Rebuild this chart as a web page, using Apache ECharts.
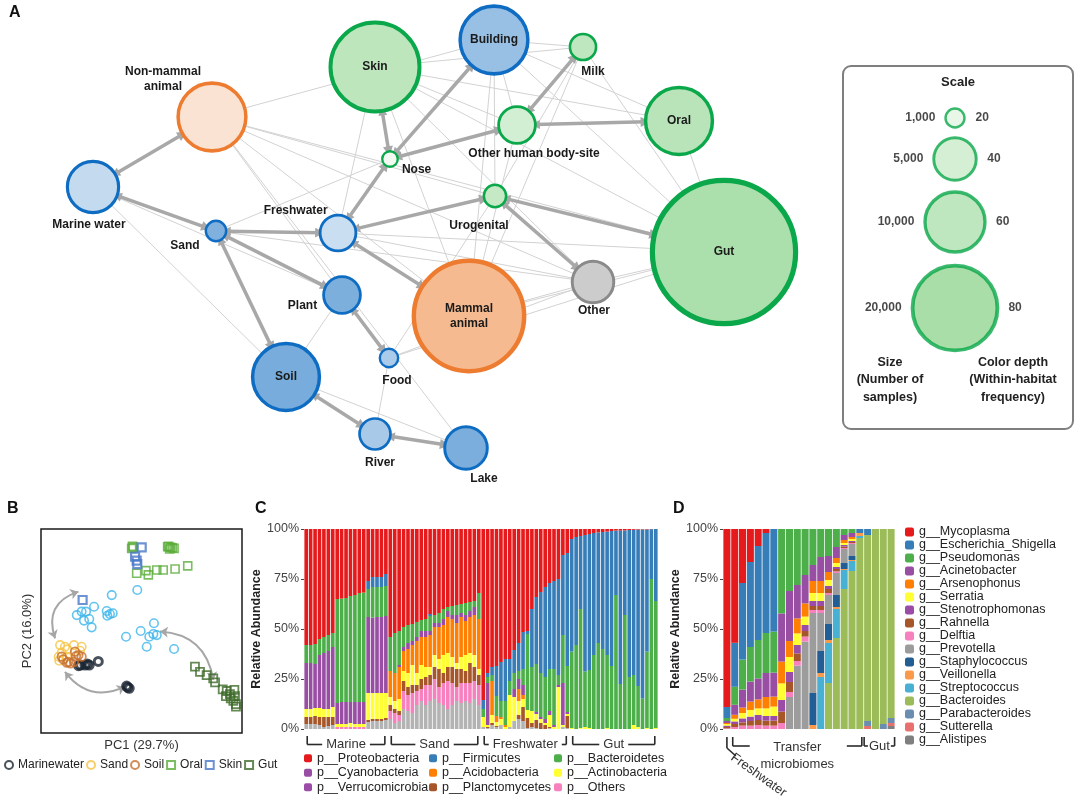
<!DOCTYPE html>
<html><head><meta charset="utf-8">
<script src="https://cdn.jsdelivr.net/npm/echarts@6/dist/echarts.min.js"></script>
<style>html,body{margin:0;padding:0;background:#fff}#c{width:1080px;height:800px}</style>
</head><body><div id="c"></div>
<script>
// ================= DATA =================
// ---- Panel A: habitat network ----
const habitatNames = ['Skin','Building','Milk','Non-mammal animal','Marine water','Nose','Other human body-site','Oral','Urogenital','Freshwater','Sand','Gut','Mammal animal','Other','Plant','Food','Soil','River','Lake'];
const habitatX = [375,494,583,212,93,390,517,679,495,338,216,724,469,593,342,389,286,375,466];
const habitatY = [67,40,47,117,187,159,125,121,196,233,231,252,316,282,295,358,377,434,448];
const habitatSamples = [22000,12750,1900,12750,7300,670,3760,12400,1380,3560,1150,57000,33800,4800,3760,940,12400,2660,5040];
const habitatFreq = [49,57,48,24,33,10,33,52,43,30,70,62,60,0,72,47,75,48,73];
const habitatType = ['human','env','human','animal','env','human','human','human','human','env','env','human','animal','other','env','env','env','env','env'];
const transferLinks = [
 ['Marine water','Non-mammal animal'],['Marine water','Sand'],['Sand','Freshwater'],['Sand','Plant'],['Sand','Soil'],
 ['Freshwater','Nose'],['Freshwater','Urogenital'],['Freshwater','Mammal animal'],['Skin','Nose'],['Nose','Building'],
 ['Nose','Other human body-site'],['Other human body-site','Milk'],['Other human body-site','Oral'],['Urogenital','Gut'],
 ['Urogenital','Other'],['Plant','Food'],['Soil','River'],['River','Lake']
];
const sharedLinks = [
 ['Non-mammal animal','Building'],['Non-mammal animal','Urogenital'],['Non-mammal animal','Other'],['Non-mammal animal','Gut'],
 ['Non-mammal animal','Mammal animal'],['Non-mammal animal','Food'],['Non-mammal animal','Lake'],['Marine water','Soil'],
 ['Marine water','Plant'],['Sand','Nose'],['Sand','Other'],['Skin','Other human body-site'],['Skin','Oral'],['Skin','Gut'],
 ['Skin','Mammal animal'],['Skin','Freshwater'],['Skin','Other'],['Skin','Milk'],['Building','Milk'],['Building','Oral'],
 ['Building','Urogenital'],['Building','Mammal animal'],['Building','Gut'],['Building','Other human body-site'],
 ['Milk','Gut'],['Milk','Mammal animal'],['Milk','Urogenital'],['Oral','Gut'],['Other human body-site','Mammal animal'],
 ['Urogenital','Food'],['Freshwater','Gut'],['Freshwater','Other'],['Plant','Soil'],['Food','River'],['Food','Other'],
 ['Food','Gut'],['Soil','Lake'],['Mammal animal','Gut'],['Mammal animal','Other'],['Other','Gut']
];
const scaleSamples = [1000,5000,10000,20000];
const scaleFreq = [20,40,60,80];
const scaleX = [955,955,955,955];
const scaleY = [118,159,222,308];

// ---- Panel B: PCoA ----
const bMarine = [[18.7,33.0],[19.7,33.3],[21.9,33.3],[23.0,33.8],[24.0,33.3],[28.5,35.1],[42.6,23.0],[43.1,22.4],[43.9,21.9]];
const bSand = [[9.5,43.1],[13.1,41.0],[16.4,43.1],[20.2,42.3],[8.8,37.4],[10.3,39.4],[12.8,37.4],[9.1,35.4],[19.4,40.3],[11.9,42.3]];
const bSoil = [[16.9,39.9],[18.6,38.2],[20.2,37.4],[11.1,36.1],[12.8,34.5],[14.7,34.1],[16.4,34.9],[10.3,37.4],[17.4,37.7],[13.6,34.9]];
const bOral = [[45.1,90.5],[45.9,91.0],[45.5,91.5],[63.0,91.3],[64.5,91.0],[66.2,90.5],[63.5,91.5],[65.3,90.8],[64.0,90.2],[47.6,78.3],[52.2,79.6],[53.4,77.5],[57.6,79.9],[60.8,79.9],[66.7,80.4],[73.0,81.9]];
const bSkin = [[50.1,91.0],[46.8,86.4],[47.6,84.5],[47.9,82.8],[20.7,65.2]];
const bGut = [[76.6,32.5],[79.1,30.0],[82.4,28.4],[85.7,26.8],[86.6,24.8],[90.4,21.4],[92.4,20.6],[94.0,19.1],[96.2,21.1],[96.5,18.1],[95.7,15.8],[97.0,14.2],[97.0,12.9],[94.4,17.0],[92.0,18.1]];
const bOtherSamples = [[35.2,67.6],[26.4,61.9],[47.9,70.1],[17.8,57.8],[20.2,59.5],[22.4,59.5],[24.0,55.9],[21.4,55.1],[25.2,51.8],[32.7,59.8],[34.3,58.3],[35.7,58.7],[33.0,57.5],[42.3,47.2],[49.6,50.0],[53.9,47.2],[55.9,48.5],[57.6,48.0],[56.2,53.8],[52.6,42.3],[66.2,41.2]];
const bTransitions = [[[18.6,69.3],[7.0,46.4]],[[11.9,30.0],[41.8,22.7]],[[59.2,49.7],[85.7,26.0]]];

// ---- Panel C: phylum composition (Marine 19, Sand 21, Freshwater 20, Gut 20 samples) ----
const cGroups = ['Marine','Sand','Freshwater','Gut'];
const cGroupStart = [0,19,40,60];
const cGroupEnd = [18,39,59,79];
const cUnclassified = [2.5,2.5,2.5,2,1,1.5,2,0,0,0,0,0,0,0,3.5,4,4,4,4.5, 5,3,4,10,9,8,12,14,12,14,15,13,12,10,12,14,13,14,13,15,12, 1,0.5,2,1,2,0,1,4,5,4,0.5,1,0.5,0,0,0.5,0,0,1,0.5, 0,0,0,0,0,0,0,0,0,0,0,0,0,0,0,0,0,0,0,0];
const cOthers = [0,0,0,0,0,0,0,1,1,1,1,1,1,1,0,0,0,0,0, 4,5,3,9,8,10,7,6,10,8,10,8,11,14,11,7,10,9,10,9,10, 0,0,0,0,0,0,0,0,0,0,0,0,0,0,0,0,0,0,0,0, 0,0,0,0,0,0,0,0,0,0,0,0,0,0,0,0,0,0,0,0];
const cPlanctomycetes = [3.5,3.5,4,4,5,4.5,4,0,0,0,0,0,0,0,1,1,1,1,1, 3,2,2,5,4,4,3,5,4,5,6,9,5,7,8,9,7,6,10,7,5, 0,0.5,1,0.5,0,0,0,0,2,7,5,2,4,3,2,0.5,0,0,0,6, 0,0,0,0,0,0,0,0,0,0,0,0,0,0,0,0,0,0,0,0];
const cActinobacteria = [4,4,4,4.5,4,4,5,1.5,1.5,1.5,2,1.5,1.5,1.5,13.5,13,13,13,12.5, 4,4,6,5,7,10,6,7,5,4,6,5,9,7,5,3,6,8,5,6,3, 5,1,4,2,3,1,16,12,7,4,4,6,3,2,1,6,1,21,1,1, 0.5,0,0.5,1,0.5,0,0,0,0.5,0,0,0,0,0,2,1,0,0.5,0,0.5];
const cAcidobacteria = [0,0,0,0,0,0,0,0,0,0,0,0,0,0,0,0,0,0,0, 13,14,16,10,12,10,16,14,15,16,14,16,15,18,19,20,20,17,18,20,25, 0,0,17,3,1,1,0,0,6,2,0,0,0,0,0,0,0,0,0,0, 0,0,0,0,0,0,0,0,0,0,0,0,0,0,0,0,0,0,0,0];
const cCyanobacteria = [23,23,22,26.5,28,29,30,10.5,11,11,10.5,11,11,11,38,37.7,38,38,38.5, 0,0,0,0,0,0,0,0,0,0,0,0,0,0,0,0,0,0,0,0,0, 0,21,0,0,0,0,0,4,5,0,0,0,0,0,0,0,0,0,0,0, 0,0,0,0,0,0,0,0,0,0,0,0,0,0,0,0,0,0,0,0];
const cVerrucomicrobia = [0,0,0,0,0,0,0,0,0,0,0,0,0,0,0,0,0,0,0, 0,0,1,2,3,2,2,3,3,2,2,2,3,3,2,4,2,3,3,4,0, 0,0,0,0,0,0,0,0,0,5,0,0,1,1,2,2,1,1,21,1, 0,0,0,0,0,0,0,0,0,0,0,0,0,0,0,0,0,0,0,0];
const cBacteroidetes = [9,9,10,8,8,8,7,52,51.7,52,53,53.5,54.5,54.7,14,15.3,15,15,15, 17,20,17,10,9,8.5,7.5,5.5,6,7.5,4,5,5,2,4.5,5,4.5,6,4.5,3,13, 4,3,3,10,8,12,7,8,4,8,38,22,24,22,21,21,28,5,24,23, 38.2,42,59.5,27.7,29,37,43,40,36.5,31.5,67,22.5,57,26,25,20.5,15.3,38.2,75,63.5];
const cFirmicutes = [0,0,0,0,0,0,0,0,0,0,0,0,0,0,4,5,5,5,6, 0,0,0,0,0,0,0,0,0,1,0,0,0,0,0,0,0,0,0,0,0, 4.5,2,4,15,19.5,21,11,11.5,14,18.5,1.5,29,33.5,40.5,45,43,44,48,40,56.5, 56.3,54,36.5,68.3,68,61,55.3,58.5,61.7,67.5,32.2,76.7,42.3,73.5,72.6,78.2,84.5,61.1,24.9,36];
const cProteobacteria = [58,58,57.5,55,54,53,52,35,34.8,34.5,33.5,33,32,31.8,26,24,24,24,22.5, 54,52,51,49,48,47.5,46.5,45.5,45,42.5,43,42,40,39,38.5,38,37.5,37,36.5,36,32, 85.5,72,69,68.5,66.5,65,65,60.5,57,51.5,51,40,34,31.5,29,27,26,25,13,12, 5,4,3.5,3,2.5,2,1.7,1.5,1.3,1,0.8,0.8,0.7,0.5,0.4,0.3,0.2,0.2,0.1,0];

// ---- Panel D: genus composition (22 samples) ----
const dGroups = ['Freshwater','Transfer\nmicrobiomes','Gut'];
const dGroupStart = [0,1,18];
const dGroupEnd = [0,17,21];
const dMycoplasma = [89,57,27,16.5,8.5,2,0,0,0,0,0,0,0,0,0,0,0,0,0,0,0,0];
const dEscherichia = [5.5,22,38.3,42.5,47,50,51.3,0,0,0,0,0,0,0,0,0,0,2,3,0,0,0];
const dPseudomonas = [1.5,9,15,17.3,19.2,20,20.5,42.2,31,28,23,18,14,13.5,9,3,2,0,0,0,0,0];
const dAcinetobacter = [1,5,9,10,10.5,12,12,24.1,25,16.7,14.2,8,12,8,5.5,2.5,2,0,0,0,0,0];
const dArsenophonus = [0.5,2,2.7,4.2,4.5,5.7,5,10.9,8,7.5,6.6,6,6,4,2.5,1.5,1,0,0,0,0,0];
const dSerratia = [0.8,1.3,2.7,3.3,3.3,3.8,4.7,8.3,7.5,5.8,4.2,4,4,3,2,1,1,0,0,0,0,0];
const dStenotrophomonas = [0.7,1.3,2,2.2,2.5,2.3,2.3,5.8,5,4.2,3,2.5,2.5,1.5,1,0.7,0.5,0,0,0,0,0];
const dRahnella = [0.7,1.5,1.6,2.3,2.5,2.5,2.5,5.7,5,3.8,2.8,2,2,2,1.2,0.8,0.5,0,0,0,0,0];
const dDelftia = [0.3,1,1.7,1.7,2,1.7,1.7,3,2.5,2.3,2.5,1.5,1.5,1,0.8,0.5,0.5,0,0,0,0,0];
const dPrevotella = [0,0,0,0,0,0,0,0,16,31.7,43.7,40,19,14.5,11,7,6,0,0,0,0,0];
const dStaphylococcus = [0,0,0,0,0,0,0,0,0,0,0,16,11,8,6,3,2,0,0,0,0,0];
const dVeillonella = [0,0,0,0,0,0,0,0,0,0,0,2,2,1.5,1,0.5,0.5,1.5,0,0,0,0];
const dStreptococcus = [0,0,0,0,0,0,0,0,0,0,0,0,26,20,14.5,9.5,5,1,0,0,0,0];
const dBacteroides = [0,0,0,0,0,0,0,0,0,0,0,0,0,23,45.5,70,79,95.5,93,100,97.5,94.5];
const dParabacteroides = [0,0,0,0,0,0,0,0,0,0,0,0,0,0,0,0,0,0,2.5,0,2.5,2.5];
const dSutterella = [0,0,0,0,0,0,0,0,0,0,0,0,0,0,0,0,0,0,1.5,0,0,1.5];
const dAlistipes = [0,0,0,0,0,0,0,0,0,0,0,0,0,0,0,0,0,0,0,0,0,1.5];

// ================= STYLE / BUILD =================
const FF = 'Liberation Sans, Arial, Helvetica, sans-serif';
const family = {
  env:{full:[74,144,208],border:'#0e6dc2'},
  human:{full:[120,204,121],border:'#0aa84a'},
  animal:{full:[238,140,70],border:'#ee7c30'},
  other:{full:null,border:'#8a8a8a',fill:'#cccccc'}
};
function fillOf(type,f){const fam=family[type]; if(!fam.full) return fam.fill;
  return 'rgb('+fam.full.map(c=>Math.round(255-(255-c)*f/100)).join(',')+')';}
function diam(n){return 0.6*Math.sqrt(n);}
function bw(d){return 2+d/45;}
const nodeLabel = {
 'Skin':{position:'inside'},'Building':{position:'inside'},'Oral':{position:'inside'},'Gut':{position:'inside'},
 'Mammal animal':{position:'inside',text:'Mammal\nanimal'},'Soil':{position:'inside'},
 'Milk':{position:'bottom',offset:[10,-2]},
 'Non-mammal animal':{position:'top',offset:[-49,18],text:'Non-mammal\nanimal'},
 'Marine water':{position:'bottom',offset:[-4,-2]},
 'Nose':{position:'right',offset:[-2,11]},
 'Other human body-site':{position:'bottom',offset:[17,-4]},
 'Urogenital':{position:'bottom',offset:[-16,5]},
 'Freshwater':{position:'left',offset:[14,-22]},
 'Sand':{position:'left',offset:[0,15]},
 'Other':{position:'bottom',offset:[1,-6]},
 'Plant':{position:'left',offset:[0,11]},
 'Food':{position:'bottom',offset:[8,0]},
 'River':{position:'bottom',offset:[5,-1]},
 'Lake':{position:'bottom',offset:[18,-5]}
};
const graphNodes = habitatNames.map((n,i)=>{
  const d = diam(habitatSamples[i]); const L = nodeLabel[n];
  return {name:n, value:[habitatX[i],habitatY[i]], symbolSize:d,
    itemStyle:{color:fillOf(habitatType[i],habitatFreq[i]), borderColor:family[habitatType[i]].border, borderWidth:bw(d)},
    label:{show:true, position:L.position, offset:L.offset||[0,0], formatter:L.text||n,
      fontFamily:FF, fontWeight:'bold', fontSize:12, color:'#1a1a1a', lineHeight:15}};
});
const graphLinks = sharedLinks.map(([a,b])=>({source:a,target:b,lineStyle:{color:'#d2d2d2',width:1,opacity:1}}))
  .concat(transferLinks.map(([a,b])=>({source:a,target:b,symbol:['triangle','triangle'],symbolSize:[9,10],
    lineStyle:{color:'#a8a8a8',width:3.5,opacity:1}})));

const scaleData = scaleSamples.map((s,i)=>({value:[scaleX[i],scaleY[i]], symbolSize:diam(s),
  itemStyle:{color:fillOf('human',scaleFreq[i]), borderColor:family.human.border, borderWidth:bw(diam(s))},
  label:{formatter:s.toLocaleString('en-US')}}));
const scaleDataR = scaleFreq.map((f,i)=>({value:[scaleX[i],scaleY[i]], symbolSize:diam(scaleSamples[i]),
  label:{formatter:String(f)}}));

// Panel C series
const cDefs = [
 ['Unclassified',cUnclassified,'#b3b3b3'],['p__Others',cOthers,'#f781bf'],['p__Planctomycetes',cPlanctomycetes,'#a65628'],
 ['p__Actinobacteria',cActinobacteria,'#ffff33'],['p__Acidobacteria',cAcidobacteria,'#ff7f00'],['p__Cyanobacteria',cCyanobacteria,'#984ea3'],
 ['p__Verrucomicrobia',cVerrucomicrobia,'#9a4ca6'],['p__Bacteroidetes',cBacteroidetes,'#4daf4a'],['p__Firmicutes',cFirmicutes,'#377eb8'],
 ['p__Proteobacteria',cProteobacteria,'#e41a1c']
];
const cCats = cProteobacteria.map((_,i)=>'C'+(i+1));
const dDefs = [
 ['g__Alistipes',dAlistipes,'#7f7f7f'],['g__Sutterella',dSutterella,'#e8706e'],['g__Parabacteroides',dParabacteroides,'#6a8db0'],
 ['g__Bacteroides',dBacteroides,'#9cbc59'],['g__Streptococcus',dStreptococcus,'#48b0d2'],['g__Veillonella',dVeillonella,'#fb9a4a'],
 ['g__Staphylococcus',dStaphylococcus,'#225d93'],['g__Prevotella',dPrevotella,'#9c9c9c'],['g__Delftia',dDelftia,'#f781bf'],
 ['g__Rahnella',dRahnella,'#a65628'],['g__Stenotrophomonas',dStenotrophomonas,'#9a4ca6'],['g__Serratia',dSerratia,'#ffff33'],
 ['g__Arsenophonus',dArsenophonus,'#ff7f00'],['g__Acinetobacter',dAcinetobacter,'#984ea3'],['g__Pseudomonas',dPseudomonas,'#4daf4a'],
 ['g__Escherichia_Shigella',dEscherichia,'#377eb8'],['g__Mycoplasma',dMycoplasma,'#e41a1c']
];
const dCats = dMycoplasma.map((_,i)=>'D'+(i+1));

const hidden = {show:false};
const pctAxis = (gi,gap)=>({type:'value',gridIndex:gi,min:0,max:100,interval:25,
  axisLabel:{formatter:'{value}%',fontSize:12.5,color:'#444',fontFamily:FF,margin:5},
  axisTick:{show:true,length:3,lineStyle:{color:'#444'}},axisLine:{show:false},splitLine:{show:false},
  name:'Relative Abundance',nameLocation:'middle',nameGap:gap,
  nameTextStyle:{fontSize:12.5,fontWeight:'bold',color:'#222',fontFamily:FF}});

const bScatter = (name,data,color,symbol,w,size)=>({type:'scatter',name,data,xAxisIndex:1,yAxisIndex:1,symbol,symbolSize:size||8.5,
  itemStyle:{color:'rgba(255,255,255,0)',borderColor:color,borderWidth:w||1.6},silent:true,animation:false});

const option = {
  animation:false,
  textStyle:{fontFamily:FF},
  grid:[
    {left:0,top:0,width:1080,height:490},
    {left:41,top:529,width:201,height:204,show:true,borderColor:'#1a1a1a',borderWidth:1.5},
    {left:304,top:529,width:354,height:200},
    {left:723,top:529,width:172,height:200}
  ],
  xAxis:[
    {type:'value',gridIndex:0,min:0,max:1080,show:false},
    {type:'value',gridIndex:1,min:0,max:100,axisLine:hidden,axisTick:hidden,axisLabel:hidden,splitLine:hidden,
      name:'PC1 (29.7%)',nameLocation:'middle',nameGap:6,nameTextStyle:{fontSize:13,color:'#333',fontFamily:FF}},
    {type:'category',gridIndex:2,data:cCats,show:false},
    {type:'category',gridIndex:3,data:dCats,show:false}
  ],
  yAxis:[
    {type:'value',gridIndex:0,min:0,max:490,inverse:true,show:false},
    {type:'value',gridIndex:1,min:0,max:100,axisLine:hidden,axisTick:hidden,axisLabel:hidden,splitLine:hidden,
      name:'PC2 (16.0%)',nameLocation:'middle',nameGap:7,nameTextStyle:{fontSize:13,color:'#333',fontFamily:FF}},
    pctAxis(2,34), pctAxis(3,38)
  ],
  legend:[
    {data:['Marinewater','Sand','Soil','Oral','Skin','Gut'],left:4,top:759,itemWidth:8,itemHeight:8,itemGap:2,padding:0,
      textStyle:{fontSize:12,color:'#222',fontFamily:FF},selectedMode:false},
    {data:['p__Proteobacteria','p__Cyanobacteria','p__Verrucomicrobia'],orient:'vertical',left:304,top:751,itemWidth:8,itemHeight:8,itemGap:0,padding:0,
      textStyle:{fontSize:12.5,lineHeight:14.5,color:'#222',fontFamily:FF},selectedMode:false},
    {data:['p__Firmicutes','p__Acidobacteria','p__Planctomycetes'],orient:'vertical',left:429,top:751,itemWidth:8,itemHeight:8,itemGap:0,padding:0,
      textStyle:{fontSize:12.5,lineHeight:14.5,color:'#222',fontFamily:FF},selectedMode:false},
    {data:['p__Bacteroidetes','p__Actinobacteria','p__Others'],orient:'vertical',left:554,top:751,itemWidth:8,itemHeight:8,itemGap:0,padding:0,
      textStyle:{fontSize:12.5,lineHeight:14.5,color:'#222',fontFamily:FF},selectedMode:false},
    {data:dDefs.map(d=>d[0]).reverse(),orient:'vertical',left:905,top:525.5,itemWidth:9,itemHeight:9,itemGap:0,padding:0,
      textStyle:{fontSize:12.5,lineHeight:12.9,color:'#222',fontFamily:FF},selectedMode:false}
  ],
  series:[
    {type:'graph',coordinateSystem:'cartesian2d',xAxisIndex:0,yAxisIndex:0,silent:true,animation:false,
      data:graphNodes,links:graphLinks,lineStyle:{opacity:1,curveness:0},z:3},
    {type:'scatter',xAxisIndex:0,yAxisIndex:0,data:scaleData,silent:true,z:3,
      label:{show:true,position:'left',distance:9,fontFamily:FF,fontWeight:'bold',fontSize:12,color:'#1a1a1a'}},
    {type:'scatter',xAxisIndex:0,yAxisIndex:0,data:scaleDataR,silent:true,z:2,itemStyle:{color:'rgba(0,0,0,0)'},
      label:{show:true,position:'right',distance:11,fontFamily:FF,fontWeight:'bold',fontSize:12,color:'#1a1a1a'}},
    bScatter('Freshwater samples',bOtherSamples,'#3cb5ea','circle',1.6,8.5),
    bScatter('Marinewater',bMarine,'#1c2533','circle',3,8),
    bScatter('Sand',bSand,'#f6c343','circle',1.6,8.5),
    bScatter('Soil',bSoil,'#c8702e','circle',1.8,8.5),
    bScatter('Oral',bOral,'#5aac3a','rect',1.6,8),
    bScatter('Skin',bSkin,'#4a78c9','rect',2.2,8),
    bScatter('Gut',bGut,'#3e6c2b','rect',1.8,8),
    {type:'lines',coordinateSystem:'cartesian2d',xAxisIndex:1,yAxisIndex:1,silent:true,animation:false,
      symbol:['arrow','arrow'],symbolSize:8,
      data:bTransitions.map((c,i)=>({coords:c,lineStyle:{curveness:[-0.5,-0.4,0.4][i]}})),
      lineStyle:{color:'#a6a6a6',width:2,opacity:1}},
    ...cDefs.map(([n,d,c])=>({type:'bar',name:n,data:d,stack:'c',xAxisIndex:2,yAxisIndex:2,barCategoryGap:'18%',
      itemStyle:{color:c},silent:true})),
    ...dDefs.map(([n,d,c])=>({type:'bar',name:n,data:d,stack:'d',xAxisIndex:3,yAxisIndex:3,barCategoryGap:'10%',
      itemStyle:{color:c},silent:true}))
  ]
};
const chart = echarts.init(document.getElementById('c'),null,{renderer:'canvas',width:1080,height:800});
chart.setOption(option);

// ---- annotations ----
const G = [];
const ctx = document.createElement('canvas').getContext('2d');
function tw(t,size,weight){ctx.font=(weight||'normal')+' '+size+'px '+FF; return ctx.measureText(t).width;}
function ln(x1,y1,x2,y2,w,c){G.push({type:'line',silent:true,shape:{x1,y1,x2,y2},style:{stroke:c||'#2a2a2a',lineWidth:w||1.6}});}
function tx(x,y,t,o){const s=Object.assign({text:t,fontSize:13,fontFamily:FF,fill:'#222',textAlign:'center',align:'center',
  textVerticalAlign:'middle',verticalAlign:'middle'},o||{}); G.push({type:'text',silent:true,x,y,rotation:s.rot||0,style:s});}

// panel letters
tx(9,13,'A',{fontSize:16,fontWeight:'bold',textAlign:'left',align:'left',fill:'#111'});
tx(7,509,'B',{fontSize:16,fontWeight:'bold',textAlign:'left',align:'left',fill:'#111'});
tx(255,509,'C',{fontSize:16,fontWeight:'bold',textAlign:'left',align:'left',fill:'#111'});
tx(673,509,'D',{fontSize:16,fontWeight:'bold',textAlign:'left',align:'left',fill:'#111'});
// scale box
G.push({type:'rect',silent:true,shape:{x:843,y:66,width:230,height:363,r:8},style:{fill:'none',stroke:'#7f7f7f',lineWidth:2}});
tx(958,82,'Scale',{fontSize:13,fontWeight:'bold'});
tx(890,380,'Size\n(Number of\nsamples)',{fontSize:12.5,fontWeight:'bold',lineHeight:17.5});
tx(1013,380,'Color depth\n(Within-habitat\nfrequency)',{fontSize:12.5,fontWeight:'bold',lineHeight:17.5});

// panel C brackets
const cpx = i=>chart.convertToPixel({xAxisIndex:2},i);
cGroups.forEach((g,k)=>{
  const xl=cpx(cGroupStart[k])+1, xr=cpx(cGroupEnd[k])-1, xc=(xl+xr)/2, w=tw(g,13);
  const y0=736, y1=744.5;
  ln(xl,y0,xl,y1); ln(xl,y1,xc-w/2-4,y1); ln(xc+w/2+4,y1,xr,y1); ln(xr,y1,xr,y0);
  tx(xc,744,g,{fontSize:13,fill:'#333'});
});
// panel D brackets
const dpx = i=>chart.convertToPixel({xAxisIndex:3},i);
{
  const x0=dpx(dGroupStart[0]);
  ln(x0,737,x0,748); ln(x0,748,x0+9,756);
  tx(x0+9,751,dGroups[0],{fontSize:13,fill:'#333',textAlign:'left',align:'left',textVerticalAlign:'top',verticalAlign:'top',rot:-0.62});
  const xl=dpx(dGroupStart[1])-2, xr=dpx(dGroupEnd[1])+2, xc=(xl+xr)/2;
  ln(xl,737,xl,746); ln(xl,746,xl+17,746); ln(xr-15,746,xr,746); ln(xr,746,xr,737);
  tx(xc,756,dGroups[1],{fontSize:13,fill:'#333',lineHeight:17});
  const gl=dpx(dGroupStart[2])-3.5, gr=dpx(dGroupEnd[2])+3.5, gc=(gl+gr)/2, gw=tw(dGroups[2],13);
  ln(gl,737,gl,746); ln(gl,746,gc-gw/2-1,746); ln(gc+gw/2+1,746,gr,746); ln(gr,746,gr,737);
  tx(gc,746,dGroups[2],{fontSize:13,fill:'#333'});
}
chart.setOption({graphic:{elements:G}});
</script></body></html>
